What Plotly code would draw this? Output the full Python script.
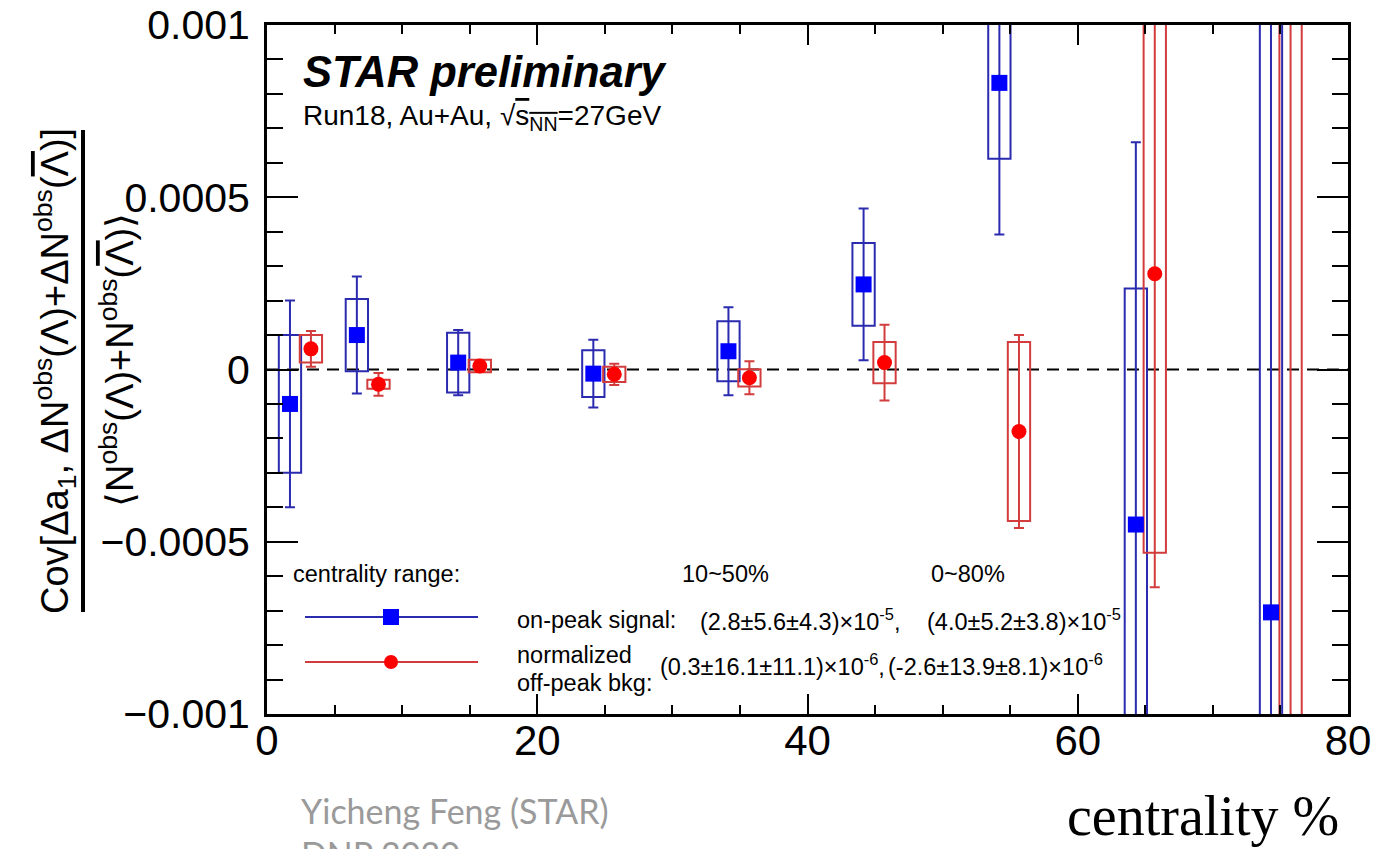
import plotly.graph_objects as go

# ---- data: covariance vs centrality (values in absolute units) ----
signal_x = [1.7, 6.65, 14.15, 24.15, 34.15, 44.15, 54.2, 64.3, 74.3]
signal_y = [-1.0e-4, 1.0e-4, 0.2e-4, -0.12e-4, 0.53e-4, 2.47e-4, 8.32e-4, -4.5e-4, -7.05e-4]
signal_stat = [3.0e-4, 1.7e-4, 0.95e-4, 0.98e-4, 1.28e-4, 2.2e-4, 4.4e-4, 11.1e-4, 25e-4]
signal_sys = [2.0e-4, 1.05e-4, 0.87e-4, 0.68e-4, 0.87e-4, 1.2e-4, 2.2e-4, 6.85e-4, 20e-4]

bkg_x = [3.25, 8.25, 15.75, 25.7, 35.7, 45.7, 55.65, 65.7, 75.75]
bkg_y = [0.6e-4, -0.43e-4, 0.1e-4, -0.14e-4, -0.24e-4, 0.2e-4, -1.8e-4, 2.78e-4, -12e-4]
bkg_stat = [0.52e-4, 0.33e-4, 0.15e-4, 0.31e-4, 0.48e-4, 1.1e-4, 2.8e-4, 9.1e-4, 30e-4]
bkg_sys = [0.4e-4, 0.13e-4, 0.18e-4, 0.22e-4, 0.25e-4, 0.6e-4, 2.6e-4, 8.1e-4, 25e-4]

y_tickvals = [-0.001, -0.0005, 0, 0.0005, 0.001]
y_ticktext = ["\u22120.001", "\u22120.0005", "0", "0.0005", "0.001"]
x_tickvals = [0, 20, 40, 60, 80]
x_ticktext = ["0", "20", "40", "60", "80"]

# ---- styling ----
W, H = 1375, 849
ML, MR, MT, MB = 267, 27, 25, 135
PW, PH = W - ML - MR, H - MT - MB
BOX_W = 1.65

BLUE = "#0000ff"
BLUE_LINE = "#2b2bb0"
RED = "#ff0000"
RED_LINE = "#d23c3c"
FONT = "Liberation Sans, Arial, Helvetica, sans-serif"


def px(x):
    return (x - ML) / PW


def py(y):
    return (H - MB - y) / PH


fig = go.Figure()

# systematic boxes
for xs, ys, sy, col in [(signal_x, signal_y, signal_sys, BLUE_LINE),
                        (bkg_x, bkg_y, bkg_sys, RED_LINE)]:
    fig.add_trace(go.Bar(
        x=xs,
        y=[2 * s for s in sy],
        base=[v - s for v, s in zip(ys, sy)],
        width=BOX_W,
        marker=dict(color="rgba(0,0,0,0)", line=dict(color=col, width=2)),
        showlegend=False,
        hoverinfo="skip",
    ))

# points with statistical errors
fig.add_trace(go.Scatter(
    x=signal_x, y=signal_y, mode="markers",
    marker=dict(symbol="square", size=16, color=BLUE),
    error_y=dict(type="data", array=signal_stat, color=BLUE_LINE, thickness=2, width=5),
    showlegend=False, cliponaxis=True,
))
fig.add_trace(go.Scatter(
    x=bkg_x, y=bkg_y, mode="markers",
    marker=dict(symbol="circle", size=15, color=RED),
    error_y=dict(type="data", array=bkg_stat, color=RED_LINE, thickness=2, width=5),
    showlegend=False, cliponaxis=True,
))

shapes = [
    # zero reference line
    dict(type="line", xref="x", yref="y", x0=0, x1=80, y0=0, y1=0,
         line=dict(color="black", width=2, dash="12px,8px"), layer="below"),
    # legend samples
    dict(type="line", xref="paper", yref="paper", x0=px(305), x1=px(478), y0=py(617), y1=py(617),
         line=dict(color=BLUE_LINE, width=2)),
    dict(type="rect", xref="paper", yref="paper", x0=px(383), x1=px(399), y0=py(625), y1=py(609),
         fillcolor=BLUE, line=dict(width=0)),
    dict(type="line", xref="paper", yref="paper", x0=px(305), x1=px(478), y0=py(662), y1=py(662),
         line=dict(color=RED_LINE, width=2)),
    dict(type="circle", xref="paper", yref="paper", x0=px(384), x1=px(398), y0=py(669), y1=py(655),
         fillcolor=RED, line=dict(width=0)),
    # fraction bar of the y-axis title
    dict(type="line", xref="paper", yref="paper", x0=px(83), x1=px(83), y0=py(612), y1=py(130),
         line=dict(color="black", width=4)),
]

LAM_BAR = "<span style='text-decoration:overline'>\u039b</span>"


def ann(x, y, text, size, xanchor="left", color="black", family=FONT, angle=0):
    return dict(xref="paper", yref="paper", x=px(x), y=py(y), text=text, showarrow=False,
                xanchor=xanchor, yanchor="middle", textangle=angle,
                font=dict(size=size, color=color, family=family))


LEG = 23.5
annotations = [
    ann(301, 72, "<b><i>STAR preliminary</i></b>", 43.5),
    ann(301, 117, "Run18, Au+Au, \u221a<span style='text-decoration:overline'>s<sub>NN</sub></span>=27GeV", 28),
    ann(291, 574, "centrality range:", LEG),
    ann(725, 574, "10~50%", LEG, xanchor="center"),
    ann(968, 574, "0~80%", LEG, xanchor="center"),
    ann(515, 620, "on-peak signal:", LEG),
    ann(698, 620, "(2.8\u00b15.6\u00b14.3)\u00d710<sup>-5</sup>,", LEG),
    ann(925, 620, "(4.0\u00b15.2\u00b13.8)\u00d710<sup>-5</sup>", LEG),
    ann(515, 655, "normalized", LEG),
    ann(515, 683, "off-peak bkg:", LEG),
    ann(658, 665, "(0.3\u00b116.1\u00b111.1)\u00d710<sup>-6</sup>,", LEG),
    ann(886, 665, "(-2.6\u00b113.9\u00b18.1)\u00d710<sup>-6</sup>", LEG),
    # y-axis title as a fraction
    ann(55, 371, "Cov[\u0394a<sub>1</sub>, \u0394N<sup>obs</sup>(\u039b)+\u0394N<sup>obs</sup>(" + LAM_BAR + ")]",
        38, xanchor="center", angle=-90),
    ann(117, 360, "\u27e8N<sup>obs</sup>(\u039b)+N<sup>obs</sup>(" + LAM_BAR + ")\u27e9",
        38, xanchor="center", angle=-90),
    # footer
    ann(299, 810, "Yicheng Feng (STAR)", 34, color="#9a9a9a", family="Lato, Noto Sans, sans-serif"),
    ann(299, 853, "DNP 2020", 34, color="#9a9a9a", family="Lato, Noto Sans, sans-serif"),
    ann(1341, 816, "centrality %", 56, xanchor="right",
        family="Liberation Serif, Times New Roman, serif"),
]

fig.update_layout(
    width=W, height=H, autosize=False,
    margin=dict(l=ML, r=MR, t=MT, b=MB),
    paper_bgcolor="white", plot_bgcolor="white",
    barmode="overlay", showlegend=False,
    shapes=shapes, annotations=annotations,
    font=dict(family=FONT, color="black"),
)

fig.update_xaxes(
    range=[0, 80], showgrid=False, zeroline=False, automargin=False,
    showline=True, linecolor="black", linewidth=3, mirror="allticks",
    ticks="inside", ticklen=20, tickwidth=2, tickcolor="black",
    tickvals=x_tickvals, ticktext=x_ticktext,
    tickfont=dict(size=42, family=FONT),
    minor=dict(dtick=5, tick0=0, ticks="inside", ticklen=9, tickwidth=2, tickcolor="black"),
    ticklabelstandoff=-12,
)
fig.update_yaxes(
    range=[-0.001, 0.001], showgrid=False, zeroline=False, automargin=False,
    showline=True, linecolor="black", linewidth=3, mirror="allticks",
    ticks="inside", ticklen=31, tickwidth=2, tickcolor="black",
    tickvals=y_tickvals, ticktext=y_ticktext,
    tickfont=dict(size=41, family=FONT),
    minor=dict(dtick=0.0001, tick0=0, ticks="inside", ticklen=16, tickwidth=2, tickcolor="black"),
    ticklabelstandoff=6,
)

fig.write_html("out.html")
